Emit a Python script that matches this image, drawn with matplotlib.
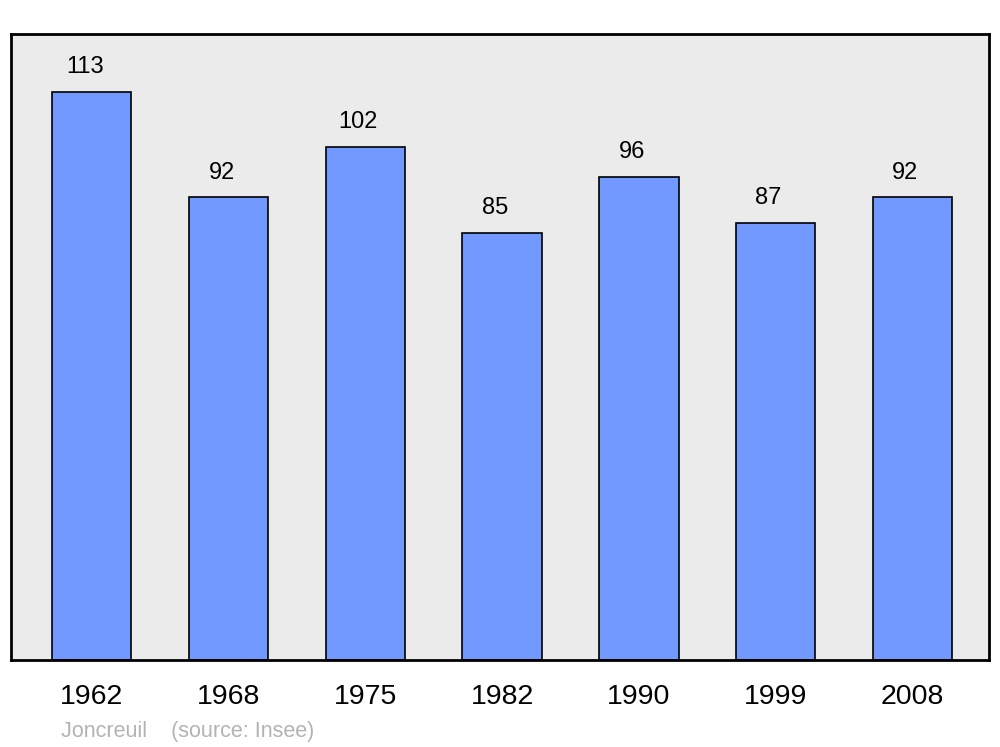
import matplotlib.pyplot as plt

plt.rcParams['font.family'] = ['Liberation Sans', 'DejaVu Sans']

years = ['1962', '1968', '1975', '1982', '1990', '1999', '2008']
population = [113, 92, 102, 85, 96, 87, 92]

fig = plt.figure(figsize=(10, 7.47), dpi=100)
ax = fig.add_axes([0.011, 0.1165, 0.978, 0.838])
ax.set_facecolor('#ebebeb')

x = range(len(years))
bars = ax.bar(x, population, width=0.58, color='#7299ff', edgecolor='black', linewidth=1.2)
for xi, val in zip(x, population):
    ax.annotate(str(val), (xi, val), xytext=(-5, 10), textcoords='offset points',
                ha='center', va='bottom', fontsize=17)

ax.set_xlim(-0.59, 6.56)
ax.set_ylim(0, 124.5)
ax.set_xticks(list(x))
ax.set_xticklabels(years, fontsize=20.5)
ax.tick_params(axis='x', length=0, pad=17)
ax.set_yticks([])
for s in ax.spines.values():
    s.set_linewidth(2)

fig.text(0.061, 0.014, 'Joncreuil    (source: Insee)', color='#b3b3b3', fontsize=15.5)

fig.savefig('out.png', dpi=100)
